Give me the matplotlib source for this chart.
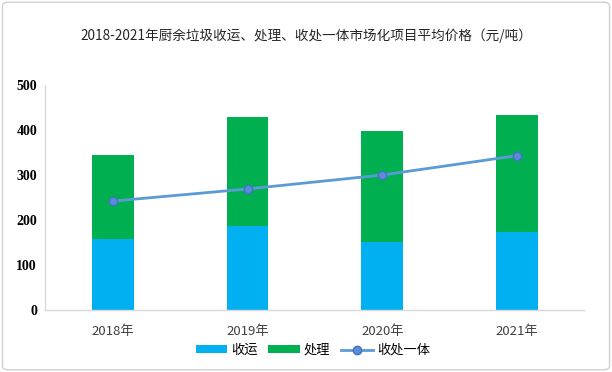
import matplotlib
matplotlib.use("Agg")
import matplotlib.pyplot as plt
from matplotlib.patches import FancyBboxPatch

plt.rcParams['font.family'] = ['Noto Sans CJK SC', 'DejaVu Sans']

years = ['2018年', '2019年', '2020年', '2021年']
collect = [157, 187, 152, 174]
process = [187, 242, 246, 259]
integrated = [242, 269, 300, 343]

fig = plt.figure(figsize=(6.12, 3.72), dpi=100)
ax = fig.add_axes([0.0742, 0.1667, 0.8808, 0.6048])

x = list(range(len(years)))
w = 0.31
b1 = ax.bar(x, collect, width=w, color='#00B0F0', label='收运', zorder=2)
b2 = ax.bar(x, process, width=w, bottom=collect, color='#00B050', label='处理', zorder=2)
l1, = ax.plot(x, integrated, color='#5B9BD5', lw=2, marker='o', ms=6,
              mfc='#5B8CD8', mec='#4472C4', mew=1, label='收处一体', zorder=3)

ax.set_xlim(-0.5, 3.5)
ax.set_ylim(0, 500)
ax.set_yticks([0, 100, 200, 300, 400, 500])
ax.set_yticklabels(['0', '100', '200', '300', '400', '500'],
                   family='Liberation Serif', fontweight='bold', fontsize=10)
ax.set_xticks(x)
ax.set_xticklabels(years, fontsize=9.5, color='#404040')
ax.tick_params(axis='both', length=0)
ax.tick_params(axis='y', pad=6)
ax.tick_params(axis='x', pad=11)
for s in ['top', 'right']:
    ax.spines[s].set_visible(False)
for s in ['left', 'bottom']:
    ax.spines[s].set_color('#D9D9D9')
    ax.spines[s].set_linewidth(1)

fig.text(0.5, 0.905, '2018-2021年厨余垃圾收运、处理、收处一体市场化项目平均价格（元/吨）',
         ha='center', va='center', fontsize=9.8, color='#262626')

leg = fig.legend(handles=[b1, b2, l1], loc='center', bbox_to_anchor=(0.511, 0.058),
                 ncol=3, frameon=False, fontsize=9.5, handlelength=2.4, handleheight=0.5,
                 columnspacing=0.8, handletextpad=0.3)

border = FancyBboxPatch((0.004, 0.006), 0.992, 0.988, boxstyle='round,pad=0,rounding_size=0.01',
                        transform=fig.transFigure, fill=False, edgecolor='#D0D0D0', lw=1)
fig.patches.append(border)

fig.savefig('out.png', dpi=100)
